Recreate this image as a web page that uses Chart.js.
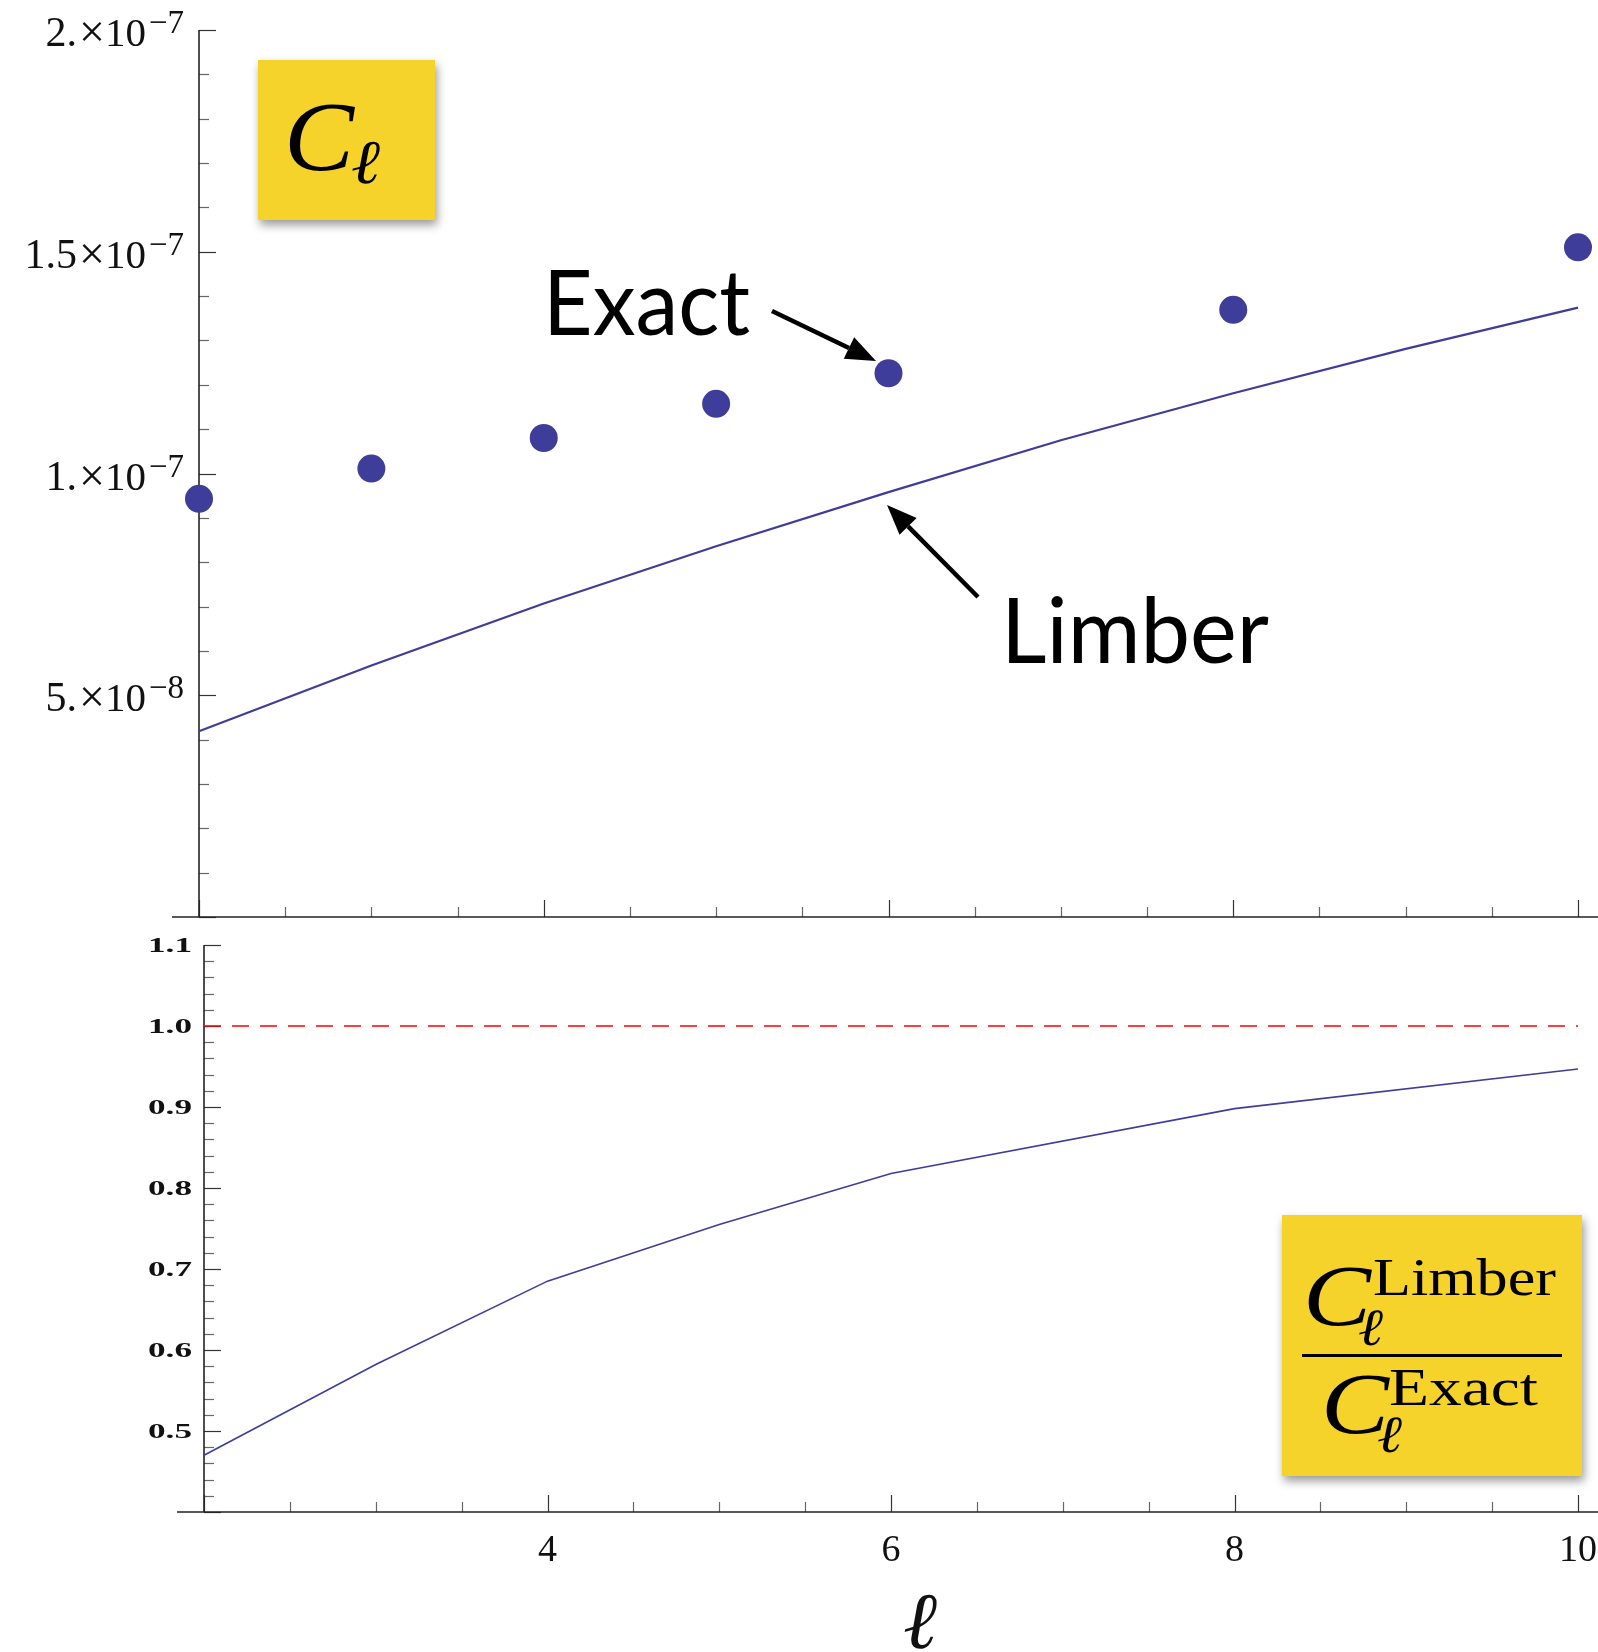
<!DOCTYPE html>
<html>
<head>
<meta charset="utf-8">
<script src="https://cdn.jsdelivr.net/npm/chart.js@4.4.1/dist/chart.umd.min.js"></script>
<style>
  body { margin: 0; background: #fff; }
  #wrap { position: relative; width: 1598px; height: 1652px; }
  canvas { position: absolute; left: 0; }
</style>
</head>
<body>
<div id="wrap">
  <canvas id="topChart" width="1598" height="932" style="top:0px"></canvas>
  <canvas id="bottomChart" width="1598" height="720" style="top:932px"></canvas>
</div>
<script>
// data
const exactEll = [2, 3, 4, 5, 6, 8, 10];
const exactCl = [0.943e-7, 1.011e-7, 1.080e-7, 1.157e-7, 1.226e-7, 1.369e-7, 1.510e-7];

const limberEll = [2, 3, 4, 5, 6, 7, 8, 9, 10];
const limberCl = [0.419e-7, 0.567e-7, 0.707e-7, 0.836e-7, 0.958e-7, 1.075e-7, 1.181e-7, 1.281e-7, 1.374e-7];

const ratioEll = [2, 3, 4, 5, 6, 8, 10];
const ratioValues = [0.470, 0.582, 0.685, 0.755, 0.818, 0.898, 0.947];

const refEll = [2, 10];
const refValues = [1.0, 1.0];

const topYTicks = [5e-8, 1e-7, 1.5e-7, 2e-7];
const topYMantissa = ["5.", "1.", "1.5", "2."];
const topYExponent = ["\u22128", "\u22127", "\u22127", "\u22127"];

const bottomYTicks = [0.5, 0.6, 0.7, 0.8, 0.9, 1.0, 1.1];
const bottomYLabels = ["0.5", "0.6", "0.7", "0.8", "0.9", "1.0", "1.1"];

const xTicks = [4, 6, 8, 10];
const xTickLabels = ["4", "6", "8", "10"];

const dotColor = "rgb(62,61,153)";
const yellow = "#f5d32a";

function pts(xs, ys) {
  return xs.map((v, i) => ({ x: v, y: ys[i] }));
}

function line(ctx, x1, y1, x2, y2) {
  ctx.beginPath();
  ctx.moveTo(x1, y1);
  ctx.lineTo(x2, y2);
  ctx.stroke();
}

// text squeezed/stretched to a given width
function fitText(ctx, text, x, y, w, font) {
  ctx.font = font;
  const m = ctx.measureText(text).width;
  ctx.save();
  ctx.translate(x, y);
  ctx.scale(w / m, 1);
  ctx.textAlign = "left";
  ctx.fillText(text, 0, 0);
  ctx.restore();
}

function arrow(ctx, x1, y1, x2, y2) {
  const a = Math.atan2(y2 - y1, x2 - x1);
  const head = 30, half = 12;
  const bx = x2 - head * Math.cos(a), by = y2 - head * Math.sin(a);
  ctx.save();
  ctx.strokeStyle = "#000";
  ctx.fillStyle = "#000";
  ctx.lineWidth = 4.5;
  line(ctx, x1, y1, bx, by);
  ctx.beginPath();
  ctx.moveTo(x2, y2);
  ctx.lineTo(bx + half * Math.sin(a), by - half * Math.cos(a));
  ctx.lineTo(bx - half * Math.sin(a), by + half * Math.cos(a));
  ctx.closePath();
  ctx.fill();
  ctx.restore();
}

function yellowBox(ctx, x, y, w, h) {
  ctx.save();
  ctx.shadowColor = "rgba(0,0,0,0.4)";
  ctx.shadowBlur = 9;
  ctx.shadowOffsetX = 2;
  ctx.shadowOffsetY = 5;
  ctx.fillStyle = yellow;
  ctx.fillRect(x, y, w, h);
  ctx.restore();
}

// axes with Mathematica-like ticks
function drawAxes(chart, opt) {
  const ctx = chart.ctx;
  const xs = chart.scales.x, ys = chart.scales.y;
  const x0 = xs.getPixelForValue(xs.min);
  const y0 = ys.getPixelForValue(ys.min);
  const yTop = ys.getPixelForValue(ys.max);
  ctx.save();
  ctx.lineCap = "butt";

  // ticks
  const nx = Math.round((xs.max - xs.min) / opt.xMinor);
  for (let i = 0; i <= nx; i++) {
    const v = xs.min + i * opt.xMinor;
    const major = Math.abs(v / opt.xMajor - Math.round(v / opt.xMajor)) < 1e-6;
    const px = Math.round(xs.getPixelForValue(v)) + 0.5;
    ctx.strokeStyle = major ? "#333" : "#666";
    ctx.lineWidth = 1.2;
    line(ctx, px, y0, px, y0 - (major ? 17 : 10));
  }
  const ny = Math.round((ys.max - ys.min) / opt.yMinor);
  for (let i = 0; i <= ny; i++) {
    const v = ys.min + i * opt.yMinor;
    const major = Math.abs(v / opt.yMajor - Math.round(v / opt.yMajor)) < 1e-6;
    const py = Math.round(ys.getPixelForValue(v)) + 0.5;
    ctx.strokeStyle = major ? "#333" : "#666";
    ctx.lineWidth = 1.2;
    line(ctx, x0, py, x0 + (major ? 17 : 10), py);
  }

  // axis lines
  ctx.strokeStyle = "#222";
  ctx.lineWidth = 1.6;
  line(ctx, x0 - opt.xOverhang, y0, chart.width, y0);
  line(ctx, x0, yTop, x0, y0);
  ctx.restore();
}

// ---------- top panel: C_l ----------
const topAxes = {
  id: "topAxes",
  beforeDatasetsDraw(chart) {
    drawAxes(chart, { xMinor: 0.5, xMajor: 2, yMinor: 1e-8, yMajor: 5e-8, xOverhang: 27 });
    const ctx = chart.ctx, ys = chart.scales.y;
    ctx.save();
    ctx.fillStyle = "#111";
    ctx.textBaseline = "alphabetic";
    ctx.textAlign = "left";
    topYTicks.forEach((v, i) => {
      const py = ys.getPixelForValue(v);
      let x = 184;
      ctx.font = '33px "Liberation Serif"';
      x -= ctx.measureText(topYExponent[i]).width;
      ctx.fillText(topYExponent[i], x, py + 3);
      ctx.font = '41px "Liberation Serif"';
      x -= ctx.measureText("10").width + 3;
      ctx.fillText("10", x, py + 16);
      ctx.font = '46px "Liberation Serif"';
      x -= ctx.measureText("\u00d7").width;
      ctx.fillText("\u00d7", x, py + 17);
      ctx.font = '42px "Liberation Serif"';
      x -= ctx.measureText(topYMantissa[i]).width + 2;
      ctx.fillText(topYMantissa[i], x, py + 16);
    });
    ctx.restore();
  },
  afterDraw(chart) {
    const ctx = chart.ctx;
    ctx.save();
    // C_l box
    yellowBox(ctx, 258, 60, 177, 160);
    ctx.fillStyle = "#000";
    fitText(ctx, "C", 284, 170, 70, 'italic 100px "Liberation Serif"');
    fitText(ctx, "\u2113", 351, 183, 29, 'italic 62px "Liberation Serif"');

    // annotations
    fitText(ctx, "Exact", 543, 335, 207, '92px "Lato"');
    fitText(ctx, "Limber", 1001, 663, 268, '92px "Lato"');
    arrow(ctx, 772, 311, 876, 361);
    arrow(ctx, 978, 597, 887, 505);
    ctx.restore();
  }
};

new Chart(document.getElementById("topChart"), {
  type: "scatter",
  data: {
    datasets: [
      {
        label: "Limber",
        data: pts(limberEll, limberCl),
        showLine: true,
        borderColor: dotColor,
        borderWidth: 2.2,
        pointRadius: 0,
        clip: false
      },
      {
        label: "Exact",
        data: pts(exactEll, exactCl),
        showLine: false,
        backgroundColor: dotColor,
        borderWidth: 0,
        pointRadius: 14,
        clip: false
      }
    ]
  },
  options: {
    responsive: false,
    animation: false,
    events: [],
    layout: { padding: { left: 199, right: 20, top: 30, bottom: 15 } },
    plugins: { legend: { display: false }, tooltip: { enabled: false } },
    scales: {
      x: { type: "linear", min: 2, max: 10, display: false },
      y: { type: "linear", min: 0, max: 2e-7, display: false }
    }
  },
  plugins: [topAxes]
});

// ---------- bottom panel: ratio ----------
const OFF = 932;
const bottomAxes = {
  id: "bottomAxes",
  beforeDatasetsDraw(chart) {
    drawAxes(chart, { xMinor: 0.5, xMajor: 2, yMinor: 0.02, yMajor: 0.1, xOverhang: 27 });
    const ctx = chart.ctx, xs = chart.scales.x, ys = chart.scales.y;
    ctx.save();
    ctx.fillStyle = "#111";
    // y labels, wide bold serif
    ctx.textBaseline = "middle";
    ctx.textAlign = "right";
    ctx.font = 'bold 22px "Liberation Serif"';
    bottomYTicks.forEach((v, i) => {
      const py = ys.getPixelForValue(v);
      ctx.save();
      ctx.translate(192, py + 1);
      ctx.scale(1.6, 1);
      ctx.fillText(bottomYLabels[i], 0, 0);
      ctx.restore();
    });
    // x labels
    ctx.textAlign = "center";
    ctx.textBaseline = "alphabetic";
    ctx.font = '38px "Liberation Serif"';
    xTicks.forEach((v, i) => {
      ctx.fillText(xTickLabels[i], xs.getPixelForValue(v), 1561 - OFF);
    });
    // axis title
    fitText(ctx, "\u2113", 903, 1648 - OFF, 34, 'italic 80px "Liberation Serif"');
    ctx.restore();
  },
  afterDraw(chart) {
    const ctx = chart.ctx;
    ctx.save();
    ctx.translate(0, -OFF);
    yellowBox(ctx, 1282, 1215, 300, 261);
    ctx.fillStyle = "#000";
    // numerator
    fitText(ctx, "C", 1303, 1325, 68, 'italic 86px "Liberation Serif"');
    fitText(ctx, "Limber", 1373, 1295, 183, '52px "Liberation Serif"');
    fitText(ctx, "\u2113", 1358, 1345, 25, 'italic 52px "Liberation Serif"');
    // fraction bar
    ctx.fillRect(1302, 1354, 260, 3);
    // denominator
    fitText(ctx, "C", 1321, 1433, 68, 'italic 86px "Liberation Serif"');
    fitText(ctx, "Exact", 1389, 1405, 149, '52px "Liberation Serif"');
    fitText(ctx, "\u2113", 1377, 1452, 25, 'italic 52px "Liberation Serif"');
    ctx.restore();
  }
};

new Chart(document.getElementById("bottomChart"), {
  type: "scatter",
  data: {
    datasets: [
      {
        label: "reference",
        data: pts(refEll, refValues),
        showLine: true,
        borderColor: "#ff0000",
        borderWidth: 1.5,
        borderDash: [17, 11],
        pointRadius: 0
      },
      {
        label: "ratio",
        data: pts(ratioEll, ratioValues),
        showLine: true,
        borderColor: dotColor,
        borderWidth: 1.6,
        pointRadius: 0,
        clip: false
      }
    ]
  },
  options: {
    responsive: false,
    animation: false,
    events: [],
    layout: { padding: { left: 204, right: 20, top: 13, bottom: 140 } },
    plugins: { legend: { display: false }, tooltip: { enabled: false } },
    scales: {
      x: { type: "linear", min: 2, max: 10, display: false },
      y: { type: "linear", min: 0.4, max: 1.1, display: false }
    }
  },
  plugins: [bottomAxes]
});
</script>
</body>
</html>
